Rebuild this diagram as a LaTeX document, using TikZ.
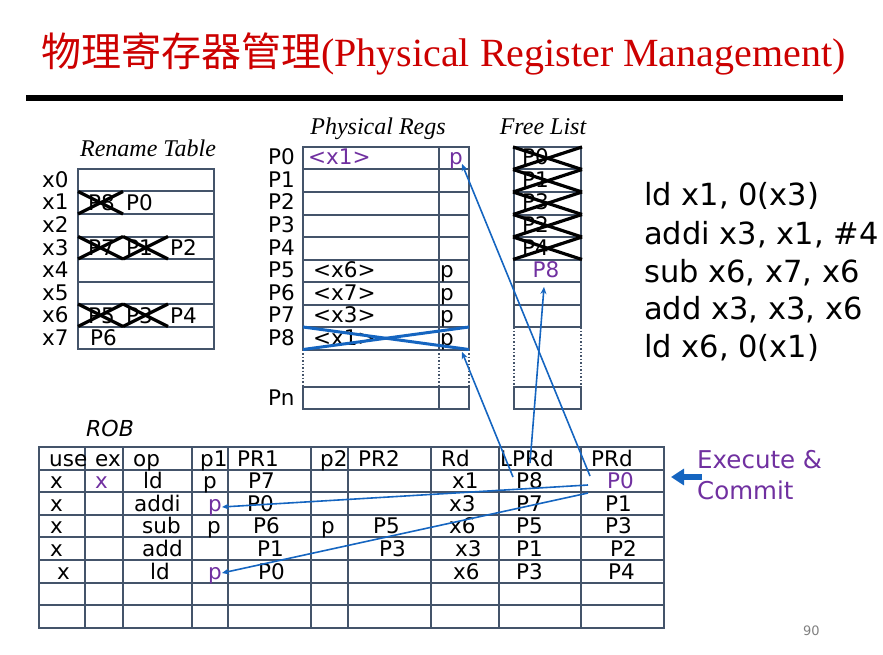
\documentclass[tikz,border=0pt]{standalone}
\usepackage{fontspec}
\setmainfont{DejaVu Sans}
\newfontfamily\cjkfont{Noto Sans CJK SC}
\newfontfamily\serifont{Liberation Serif}
\usetikzlibrary{arrows.meta}
\definecolor{tred}{RGB}{204,0,0}
\definecolor{gridc}{RGB}{68,84,106}
\definecolor{purp}{RGB}{112,48,160}
\definecolor{lblue}{RGB}{21,101,192}
\begin{document}
\begin{tikzpicture}[x=1pt,y=-1pt,
  txt/.style={anchor=base west,inner sep=0pt,font=\fontsize{21.5}{25}\selectfont},
  ptxt/.style={txt,text=purp},
  captxt/.style={anchor=base,inner sep=0pt,font=\fontsize{24}{28}\selectfont\serifont\itshape},
  instr/.style={anchor=base west,inner sep=0pt,font=\fontsize{30.5}{36}\selectfont},
  gridline/.style={draw=gridc,line width=2pt},
  dotline/.style={draw=gridc,line width=1.5pt,dotted},
  xcross/.style={draw=black,line width=3.2pt},
  bcross/.style={draw=lblue,line width=3pt},
  link/.style={draw=lblue,line width=1.6pt,-{Stealth[length=7pt,width=6pt]}}]
\useasboundingbox (0,0) rectangle (883,655);
% title
\node[anchor=base west,inner sep=0pt,text=tred,font=\fontsize{40}{48}\selectfont] (title) at (41,67)
  {{\cjkfont 物理寄存器管理}{\serifont (Physical Register Management)}};
\fill (26,95) rectangle (843,101);
% ---------- Rename table ----------
\node[captxt] (rtcap) at (148,157) {Rename Table};
\draw[gridline] (78,169) rectangle (214,349);
\foreach \i in {1,...,7} \draw[gridline] (78,{169+22.5*\i}) -- (214,{169+22.5*\i});
\foreach \i in {0,...,7} \node[txt] (rx\i) at (42,{169+22.5*\i+18.5}) {x\i};
\node[txt] (rt1a) at (88,210.5) {P8};
\node[txt] (rt1b) at (126,210.5) {P0};
\node[txt] (rt3a) at (88,255.5) {P7};
\node[txt] (rt3b) at (126,255.5) {P1};
\node[txt] (rt3c) at (170,255.5) {P2};
\node[txt] (rt6a) at (88,323) {P5};
\node[txt] (rt6b) at (126,323) {P3};
\node[txt] (rt6c) at (170,323) {P4};
\node[txt] (rt7a) at (90,345.5) {P6};
\draw[xcross] (78,191.5) -- (123,214);
\draw[xcross] (78,214) -- (123,191.5);
\draw[xcross] (78,236.5) -- (123,259);
\draw[xcross] (78,259) -- (123,236.5);
\draw[xcross] (123,236.5) -- (168,259);
\draw[xcross] (123,259) -- (168,236.5);
\draw[xcross] (78,304) -- (123,326.5);
\draw[xcross] (78,326.5) -- (123,304);
\draw[xcross] (123,304) -- (168,326.5);
\draw[xcross] (123,326.5) -- (168,304);
% ---------- Physical regs ----------
\node[captxt] (prcap) at (378,135) {Physical Regs};
\draw[gridline] (303,147) rectangle (469,349.5);
\foreach \i in {1,...,8} \draw[gridline] (303,{147+22.5*\i}) -- (469,{147+22.5*\i});
\draw[gridline] (439,147) -- (439,349.5);
\draw[dotline] (303,349.5) -- (303,387);
\draw[dotline] (439,349.5) -- (439,387);
\draw[dotline] (469,349.5) -- (469,387);
\draw[gridline] (303,387) rectangle (469,409);
\draw[gridline] (439,387) -- (439,409);
\foreach \i in {0,...,8} \node[txt] (pl\i) at (268,{147+22.5*\i+18}) {P\i};
\node[txt] (pln) at (268,405) {Pn};
\node[ptxt] (pv0) at (308,165) {<x1>};
\node[ptxt] (pp0) at (449,165) {p};
\node[txt] (pv5) at (313,277.5) {<x6>};
\node[txt] (pp5) at (440,277.5) {p};
\node[txt] (pv6) at (313,300) {<x7>};
\node[txt] (pp6) at (440,300) {p};
\node[txt] (pv7) at (313,322.5) {<x3>};
\node[txt] (pp7) at (440,322.5) {p};
\node[txt] (pv8) at (313,345) {<x1>};
\node[txt] (pp8) at (440,345) {p};
\draw[bcross] (303,327) -- (469,349.5);
\draw[bcross] (303,349.5) -- (469,327);
% ---------- Free list ----------
\node[captxt] (flcap) at (543,135) {Free List};
\draw[gridline] (514,147) rectangle (581,327);
\foreach \i in {1,...,7} \draw[gridline] (514,{147+22.5*\i}) -- (581,{147+22.5*\i});
\draw[dotline] (514,327) -- (514,387);
\draw[dotline] (581,327) -- (581,387);
\draw[gridline] (514,387) rectangle (581,409);
\foreach \n [count=\i from 0] in {0,1,3,2,4} {
  \node[txt] (fl\i) at (522,{147+22.5*\i+18}) {P\n};
  \draw[xcross] (513,{147+22.5*\i}) -- (582,{147+22.5*(\i+1)});
  \draw[xcross] (513,{147+22.5*(\i+1)}) -- (582,{147+22.5*\i});}
\node[ptxt,anchor=base] (fl8) at (546,277.5) {P8};
% ---------- instructions ----------
\node[instr] (i1) at (644,206) {ld x1, 0(x3)};
\node[instr] (i2) at (644,244) {addi x3, x1, \#4};
\node[instr] (i3) at (644,282) {sub x6, x7, x6};
\node[instr] (i4) at (644,319.5) {add x3, x3, x6};
\node[instr] (i5) at (644,357) {ld x6, 0(x1)};
% ---------- ROB ----------
\node[txt,font=\fontsize{22}{26}\selectfont\itshape] (robcap) at (86,436) {ROB};
\draw[gridline] (39,447) rectangle (664,627.8);
\foreach \i in {1,...,7} \draw[gridline] (39,{447+22.6*\i}) -- (664,{447+22.6*\i});
\foreach \x in {85,123,192,228,311,348,431,499,581} \draw[gridline] (\x,447) -- (\x,627.8);
\node[txt] (h1) at (49,466) {use};
\node[txt] (h2) at (95,466) {ex};
\node[txt] (h3) at (133,466) {op};
\node[txt] (h4) at (200,466) {p1};
\node[txt] (h5) at (237,466) {PR1};
\node[txt] (h6) at (320,466) {p2};
\node[txt] (h7) at (358,466) {PR2};
\node[txt] (h8) at (441,466) {Rd};
\node[txt] (h9) at (500,466) {LPRd};
\node[txt] (h10) at (591,466) {PRd};
% row 1
\node[txt] (a1) at (50,488.6) {x};
\node[ptxt] (a2) at (95,488.6) {x};
\node[txt] (a3) at (143,488.6) {ld};
\node[txt] (a4) at (203,488.6) {p};
\node[txt] (a5) at (248,488.6) {P7};
\node[txt] (a8) at (452,488.6) {x1};
\node[txt] (a9) at (516,488.6) {P8};
\node[ptxt] (a10) at (607,488.6) {P0};
% row 2
\node[txt] (b1) at (50,511.2) {x};
\node[txt] (b3) at (134,511.2) {addi};
\node[ptxt] (b4) at (208,511.2) {p};
\node[txt] (b5) at (247,511.2) {P0};
\node[txt] (b8) at (449,511.2) {x3};
\node[txt] (b9) at (516,511.2) {P7};
\node[txt] (b10) at (605,511.2) {P1};
% row 3
\node[txt] (c1) at (50,533.8) {x};
\node[txt] (c3) at (142,533.8) {sub};
\node[txt] (c4) at (207,533.8) {p};
\node[txt] (c5) at (253,533.8) {P6};
\node[txt] (c6) at (321,533.8) {p};
\node[txt] (c7) at (373,533.8) {P5};
\node[txt] (c8) at (449,533.8) {x6};
\node[txt] (c9) at (516,533.8) {P5};
\node[txt] (c10) at (605,533.8) {P3};
% row 4
\node[txt] (d1) at (50,556.4) {x};
\node[txt] (d3) at (142,556.4) {add};
\node[txt] (d5) at (257,556.4) {P1};
\node[txt] (d7) at (379,556.4) {P3};
\node[txt] (d8) at (455,556.4) {x3};
\node[txt] (d9) at (516,556.4) {P1};
\node[txt] (d10) at (610,556.4) {P2};
% row 5
\node[txt] (e1) at (57,579) {x};
\node[txt] (e3) at (150,579) {ld};
\node[ptxt] (e4) at (208,579) {p};
\node[txt] (e5) at (258,579) {P0};
\node[txt] (e8) at (453,579) {x6};
\node[txt] (e9) at (516,579) {P3};
\node[txt] (e10) at (608,579) {P4};
% ---------- links ----------
\coordinate (s1) at (590,476);
\coordinate (t1) at (462,164);
\coordinate (s2) at (513,477);
\coordinate (t2) at (462,352);
\coordinate (s3) at (530,463);
\coordinate (t3) at (544,287);
\coordinate (s4) at (588,485);
\coordinate (t4) at (222,507);
\coordinate (s5) at (588,493);
\coordinate (t5) at (222,573);
\draw[link] (s1) -- (t1);
\draw[link] (s2) -- (t2);
\draw[link] (s3) -- (t3);
\draw[link] (s4) -- (t4);
\draw[link] (s5) -- (t5);
% ---------- execute & commit ----------
\node[anchor=base west,inner sep=0pt,text=purp,font=\fontsize{24.5}{29}\selectfont] (ex1) at (697,468) {Execute \&};
\node[anchor=base west,inner sep=0pt,text=purp,font=\fontsize{24.5}{29}\selectfont] (ex2) at (697,499) {Commit};
\coordinate (ea) at (702,477);
\coordinate (eb) at (671,477);
\draw[lblue,line width=5.5pt,-{Triangle[length=13pt,width=16pt]}] (ea) -- (eb);
\node[anchor=base west,inner sep=0pt,text=gray,font=\fontsize{13}{15}\selectfont] (pg) at (803,635) {90};
\end{tikzpicture}
\end{document}
